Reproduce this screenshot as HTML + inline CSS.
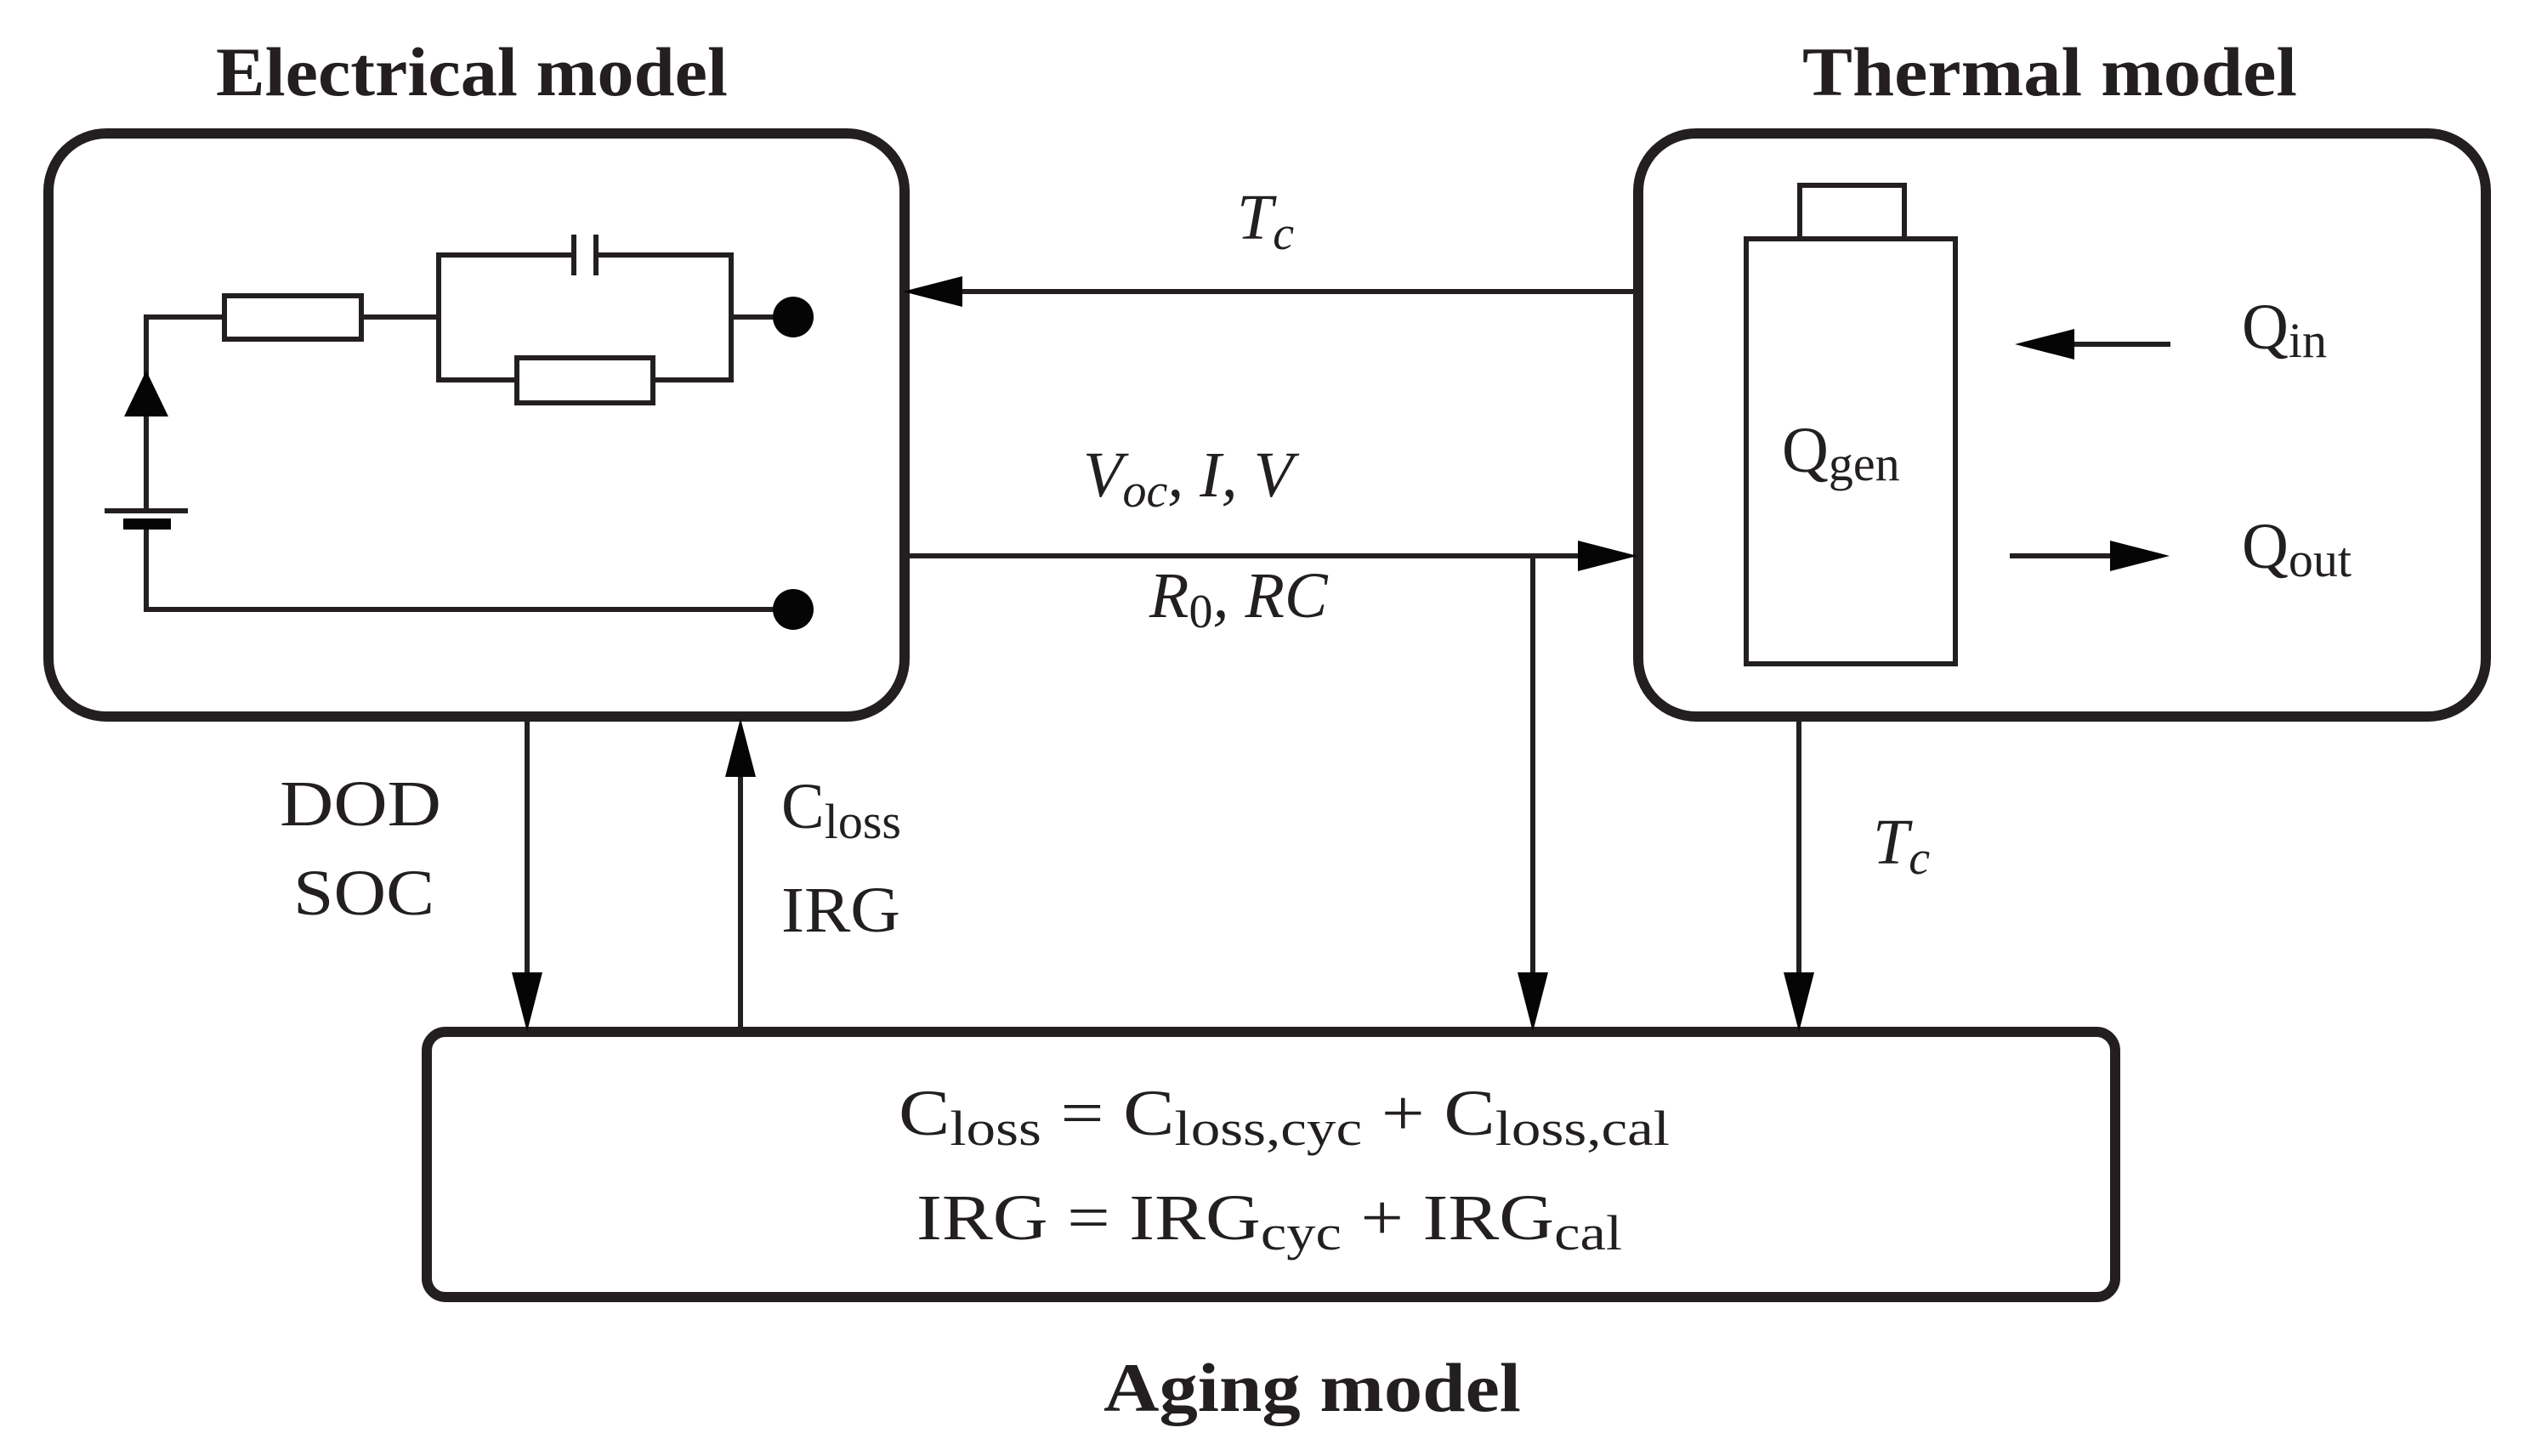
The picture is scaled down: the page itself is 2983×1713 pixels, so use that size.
<!DOCTYPE html>
<html><head><meta charset="utf-8"><style>
html,body{margin:0;padding:0;background:#fff;}
svg{display:block;}
text{font-family:"Liberation Serif",serif;fill:#231f20;}
</style></head><body>
<svg width="2983" height="1713" viewBox="0 0 2983 1713" xmlns="http://www.w3.org/2000/svg">
<g fill="none" stroke="#231f20">
<rect x="57" y="157" width="1007" height="686" rx="68" stroke-width="12"/>
<rect x="1927" y="157" width="997" height="686" rx="68" stroke-width="12"/>
<rect x="502" y="1214" width="1986" height="312" rx="22" stroke-width="12"/>
<g stroke-width="6">
<polyline points="172,600 172,373 264,373"/>
<rect x="264" y="348" width="161" height="51"/>
<line x1="425" y1="373" x2="516" y2="373"/>
<polyline points="675,300 516,300 516,447 608,447"/>
<polyline points="701,300 860,300 860,447 768,447"/>
<rect x="608" y="421" width="160" height="53"/>
<line x1="675" y1="276" x2="675" y2="324"/>
<line x1="701" y1="276" x2="701" y2="324"/>
<line x1="860" y1="373" x2="933" y2="373"/>
<polyline points="172,622 172,717 933,717"/>
<line x1="123" y1="601" x2="221" y2="601"/>
<rect x="2054" y="281" width="246" height="500"/>
<rect x="2117" y="218" width="123" height="63"/>
<line x1="1130" y1="343" x2="1927" y2="343"/>
<line x1="1064" y1="654" x2="1860" y2="654"/>
<line x1="1803" y1="654" x2="1803" y2="1145"/>
<line x1="2116" y1="843" x2="2116" y2="1145"/>
<line x1="620" y1="843" x2="620" y2="1145"/>
<line x1="871" y1="912" x2="871" y2="1214"/>
<line x1="2553" y1="405" x2="2430" y2="405"/>
<line x1="2364" y1="654" x2="2490" y2="654"/>
</g>
</g>
<g fill="#050505">
<rect x="145" y="610" width="56" height="13"/>
<ellipse cx="933" cy="373" rx="24" ry="24"/>
<ellipse cx="933" cy="717" rx="24" ry="24"/>
<polygon points="172,436 146,490 198,490"/>
<polygon points="1062,343 1132,325 1132,361"/>
<polygon points="1926,654 1856,636 1856,672"/>
<polygon points="2370,405 2440,387 2440,423"/>
<polygon points="2552,654 2482,636 2482,672"/>
<polygon points="620,1214 602,1144 638,1144"/>
<polygon points="1803,1214 1785,1144 1821,1144"/>
<polygon points="2116,1214 2098,1144 2134,1144"/>
<polygon points="871,845 853,914 889,914"/>
</g>
<text x="254" y="112" font-size="82" font-weight="bold" textLength="602" lengthAdjust="spacingAndGlyphs">Electrical model</text>
<text x="2120" y="112" font-size="82" font-weight="bold" textLength="582" lengthAdjust="spacingAndGlyphs">Thermal model</text>
<text x="1298" y="1660" font-size="82" font-weight="bold" textLength="491" lengthAdjust="spacingAndGlyphs">Aging model</text>
<text x="1455" y="281" font-size="76" font-style="italic">T<tspan font-size="56" dy="12">c</tspan></text>
<text x="1274" y="584" font-size="76" font-style="italic">V<tspan font-size="56" dy="12">oc</tspan><tspan dy="-12">, I, V</tspan></text>
<text x="1352" y="726" font-size="76" font-style="italic">R<tspan font-size="56" dy="12" font-style="normal">0</tspan><tspan dy="-12">, RC</tspan></text>
<text x="2096" y="555" font-size="76">Q<tspan font-size="58" dy="10">gen</tspan></text>
<text x="2637" y="410" font-size="76">Q<tspan font-size="58" dy="10">in</tspan></text>
<text x="2637" y="668" font-size="76">Q<tspan font-size="58" dy="10">out</tspan></text>
<text x="329" y="971" font-size="76" textLength="190" lengthAdjust="spacingAndGlyphs">DOD</text>
<text x="345" y="1076" font-size="76" textLength="166" lengthAdjust="spacingAndGlyphs">SOC</text>
<text x="919" y="974" font-size="76">C<tspan font-size="58" dy="12">loss</tspan></text>
<text x="919" y="1096" font-size="76" textLength="140" lengthAdjust="spacingAndGlyphs">IRG</text>
<text x="2203" y="1016" font-size="76" font-style="italic">T<tspan font-size="56" dy="12">c</tspan></text>
<text x="1057" y="1335" font-size="76" textLength="907" lengthAdjust="spacingAndGlyphs">C<tspan font-size="58" dy="12">loss</tspan><tspan dy="-12"> = C</tspan><tspan font-size="58" dy="12">loss,cyc</tspan><tspan dy="-12"> + C</tspan><tspan font-size="58" dy="12">loss,cal</tspan></text>
<text x="1078" y="1458" font-size="76" textLength="830" lengthAdjust="spacingAndGlyphs">IRG = IRG<tspan font-size="58" dy="12">cyc</tspan><tspan dy="-12"> + IRG</tspan><tspan font-size="58" dy="12">cal</tspan></text>
</svg>
</body></html>
